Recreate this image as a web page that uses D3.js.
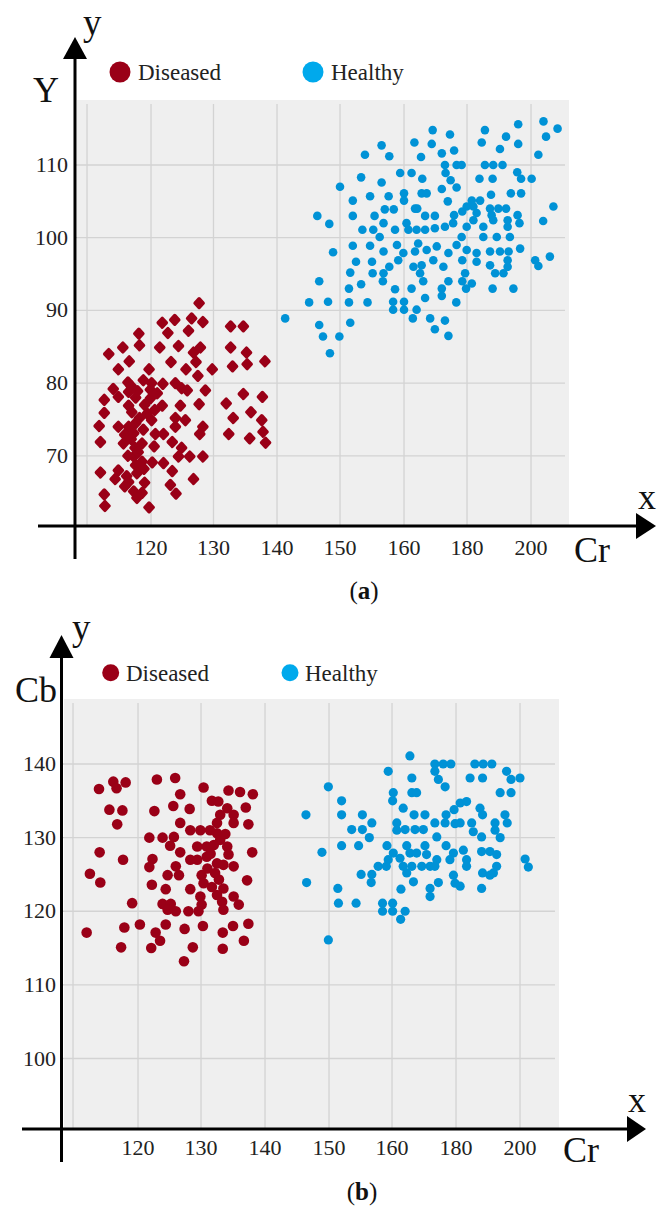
<!DOCTYPE html>
<html><head><meta charset="utf-8">
<script src="https://cdn.jsdelivr.net/npm/d3@7"></script>
<style>html,body{margin:0;padding:0;background:#fff;}svg{display:block;}</style>
</head><body><svg id="c" width="657" height="1207"></svg>
<script>
// ---- data ----
const crTicks = [110, 120, 130, 140, 150, 160, 180, 200];
const crTickLabels = ["", "120", "130", "140", "150", "160", "180", "200"];
const yTicksA = [70, 80, 90, 100, 110];
const cbTicksB = [100, 110, 120, 130, 140];
const seriesNames = ["Diseased", "Healthy"];

// (a) Cr vs Y
const diseasedA = [[127.7,91.0],[121.8,88.3],[123.8,88.7],[126.5,88.9],[128.3,88.4],[126.0,87.2],[122.7,86.9],[118.1,86.8],[118.2,85.2],[115.6,84.9],[113.4,84.0],[121.4,84.9],[124.4,85.1],[126.8,84.2],[127.9,84.9],[127.2,82.9],[123.2,82.9],[116.6,83.0],[114.9,81.9],[119.7,81.9],[125.6,81.9],[127.5,81.0],[129.8,81.9],[132.7,87.8],[134.7,87.8],[132.7,84.9],[135.2,84.2],[133.0,82.3],[135.3,82.6],[138.1,83.0],[134.7,78.5],[137.7,78.1],[132.0,77.2],[135.9,76.0],[133.1,75.2],[137.6,74.9],[132.4,73.0],[137.8,73.3],[135.7,72.4],[138.2,71.8],
[116.4,80.1],[120.1,80.0],[121.9,79.9],[123.9,80.0],[124.9,79.3],[114.1,79.2],[114.9,78.1],[116.5,78.8],[117.6,78.0],[119.9,79.1],[119.9,77.9],[112.7,77.7],[116.5,76.9],[121.8,76.9],[124.7,76.9],[112.7,75.9],[119.4,75.8],[120.1,74.9],[123.9,75.2],[125.5,74.9],[111.9,74.1],[114.9,74.0],[116.5,74.0],[117.6,74.5],[115.9,72.9],[117.3,73.1],[120.7,73.0],[122.0,73.0],[112.1,71.9],[115.7,71.7],[118.6,71.7],[120.5,71.3],[123.4,71.9],[124.9,71.1],[117.5,71.1],[117.3,69.9],[118.6,69.2],[120.2,69.1],[122.0,69.0],[124.4,69.9],[126.2,69.9],[117.6,68.7],[114.9,68.0],[112.1,67.7],[117.8,67.6],[123.4,67.9],[114.4,66.8],[116.5,66.4],[115.9,65.8],[117.3,65.1],[118.6,64.9],[123.1,66.0],[124.0,64.8],[112.7,64.7],[112.8,63.1],[119.7,62.9],[126.8,66.8],
[128.7,79.0],[127.7,77.1],[128.3,74.0],[127.8,73.0],[123.9,74.0],[128.3,69.9],[125.8,79.0],
[117.0,76.0],[118.2,75.2],[118.8,73.6],[116.9,72.3],[118.0,70.5],[116.4,70.0],[118.9,68.2],[116.2,67.2],[119.0,66.3],[117.8,64.2],[120.6,76.3],[119.0,77.0],[118.8,80.4],[121.0,78.6],[116.9,79.6],[117.9,78.9]];

const healthyA = [[203.9,116.0],[208.3,115.0],[196.0,115.6],[185.6,114.8],[169.1,114.8],
[174.6,114.2],[192.2,113.9],[204.7,113.9],[163.3,113.1],[168.8,112.9],[184.6,113.1],[196.0,112.9],[156.5,112.7],[190.3,112.2],[175.9,112.0],[172.0,111.6],[153.9,111.4],[157.7,111.2],[165.4,111.1],[202.3,111.4],
[173.0,110.0],[176.7,110.0],[178.3,110.0],[185.6,110.0],[188.2,110.0],[191.1,110.0],[173.2,108.9],[159.4,108.9],[162.4,108.9],[195.7,109.0],[196.9,108.1],[200.2,108.1],[153.3,108.3],[156.5,107.6],[165.8,108.1],[174.8,107.9],[183.9,108.1],[188.0,108.1],[150.0,107.0],[176.7,106.9],[172.0,106.7],
[152.0,105.1],[154.7,105.7],[157.6,105.7],[160.0,106.1],[160.0,105.1],[165.6,106.1],[167.2,106.1],[173.9,105.0],[187.5,105.9],[193.7,106.1],[196.9,106.1],[181.5,105.1],[184.1,105.1],[157.0,103.9],[158.4,103.9],[163.5,104.0],[164.2,104.0],[179.9,104.3],[182.0,104.3],[187.2,104.0],[189.8,104.0],[192.2,104.0],[207.0,104.3],[146.4,103.0],
[148.3,101.9],[152.0,103.0],[155.4,103.0],[156.8,102.0],[158.6,101.1],[160.8,102.0],[166.7,103.0],[169.8,103.0],[175.9,103.1],[178.5,103.6],[187.7,103.1],[188.2,102.4],[192.7,102.4],[192.7,101.5],[195.8,103.1],[196.4,102.0],[203.8,102.3],[153.5,101.1],[155.2,101.1],[156.2,100.1],[161.4,101.1],[164.0,101.1],[166.7,101.1],[169.8,101.3],[173.0,101.5],[175.6,102.0],[179.9,101.5],[182.0,102.4],[183.0,103.4],[178.3,100.1],[185.1,101.5],[185.1,100.1],[189.3,100.1],[193.4,100.1],
[148.9,98.0],[152.0,98.9],[154.7,98.9],[156.8,98.1],[158.9,99.0],[159.9,97.9],[163.5,98.1],[164.5,99.2],[167.2,98.3],[170.4,98.8],[174.1,97.9],[176.7,99.0],[179.9,98.3],[183.0,97.9],[187.2,98.1],[190.3,98.1],[193.0,98.1],[196.6,98.5],[201.3,96.9],[202.3,96.1],[205.9,97.4],[152.5,96.7],[155.0,96.7],[157.7,96.0],[159.1,96.9],[163.0,96.0],[165.6,96.2],[169.3,96.9],[172.5,96.0],[178.5,96.9],[183.0,96.7],[187.2,96.2],[192.7,96.9],[192.7,96.0],
[151.6,95.2],[155.1,95.1],[156.8,95.1],[156.7,94.0],[165.1,95.1],[166.1,94.0],[179.4,95.1],[178.5,94.0],[181.5,93.7],[188.8,95.1],[191.4,95.1],[146.7,94.0],[153.3,93.6],[151.4,93.0],[158.6,92.9],[162.4,93.0],[172.0,93.0],[172.0,92.0],[174.1,94.0],[179.7,93.0],[188.0,93.0],[194.5,93.0],
[145.1,91.1],[148.1,91.2],[151.4,91.1],[154.3,91.1],[158.3,91.2],[158.3,90.1],[160.0,91.2],[160.0,90.1],[164.0,90.1],[162.8,88.9],[166.7,91.7],[176.6,91.1],[168.3,88.9],[173.0,88.6],[169.8,87.4],[174.1,86.5],[141.3,88.9],[146.7,88.0],[151.6,88.3],[147.3,86.4],[149.9,86.4],[148.4,84.1]];

// (b) Cr vs Cb
const diseasedB = [[114.0,136.6],[116.2,137.6],[116.7,136.7],[118.1,137.5],[123.0,137.9],[125.9,138.1],[130.4,136.8],[126.7,135.9],[134.3,136.4],[136.1,136.2],[138.1,135.9],[131.7,135.0],[132.7,134.9],[125.6,134.3],[128.2,133.9],[122.6,133.6],[115.6,133.8],[117.6,133.7],[116.8,131.8],[134.1,134.0],[135.1,133.1],[137.0,134.1],[133.0,133.1],[132.5,132.0],[135.1,132.0],[137.4,131.8],[126.7,132.0],[128.3,131.0],[129.9,131.0],[131.4,131.0],[132.5,130.6],[133.0,129.7],[121.8,130.0],[123.9,130.0],[125.7,130.1],[125.1,128.9],[126.7,128.0],[129.4,128.8],[130.9,128.8],[134.1,128.8],[134.3,127.7],[138.0,128.0],[114.1,128.0],[117.7,127.0],[122.3,127.1],[121.8,126.0],[128.3,127.0],[129.4,127.0],[130.9,127.4],[132.5,126.5],[133.5,126.3],[135.1,126.1],[126.0,126.1],[126.5,124.9],[124.7,124.9],[112.6,125.1],[114.2,123.9],[130.1,124.9],[130.4,123.8],[132.2,125.2],[137.2,124.2],[122.2,123.6],[124.4,123.0],[128.3,123.0],[133.5,123.1],[129.9,122.0],[130.1,120.9],[132.5,122.2],[133.3,121.3],[133.5,120.2],[135.1,122.0],[135.9,120.9],[119.1,121.1],[123.9,121.0],[125.2,121.0],[126.0,120.0],[124.7,120.2],[128.0,120.0],[129.6,120.0],[112.1,117.1],[117.9,117.8],[120.3,118.2],[124.4,118.2],[127.4,117.6],[130.3,118.0],[135.0,118.0],[137.4,118.3],[122.8,117.1],[123.5,116.0],[122.1,115.0],[117.4,115.1],[133.4,117.1],[136.7,116.0],[128.7,115.1],[133.4,114.9],[127.3,113.2],
[132.0,129.0],[131.5,127.8],[133.8,130.5],[131.0,125.8],[132.8,124.3],[131.7,123.3]];

const healthyB = [[165.6,141.1],[173.4,140.0],[176.0,140.0],[178.4,140.0],[185.9,140.0],[188.5,140.0],[191.2,140.0],[159.4,139.0],[173.4,139.0],[174.5,137.9],[166.2,138.1],[176.6,136.9],[184.4,138.1],[188.3,138.1],[195.8,139.0],[197.2,137.9],[200.0,138.1],[149.9,136.9],[160.4,136.1],[160.2,135.0],[166.2,136.1],[167.7,136.1],[193.8,136.1],[197.2,136.1],[152.0,135.0],[146.4,133.1],[152.0,133.1],[155.3,133.1],[156.8,132.0],[163.5,134.0],[166.9,133.1],[170.3,133.1],[176.9,133.1],[179.4,133.8],[181.3,134.7],[183.3,134.9],[187.5,134.0],[188.3,133.1],[195.3,133.1],[196.0,132.0],[153.6,131.1],[155.3,131.1],[156.4,130.0],[161.5,132.0],[161.5,131.0],[164.1,131.1],[167.2,131.1],[169.8,131.1],[173.4,132.0],[174.0,130.1],[176.6,132.0],[179.7,131.9],[181.3,132.0],[184.9,132.0],[185.4,130.8],[188.0,130.1],[192.2,132.0],[192.2,131.0],[193.8,130.0],[148.9,128.0],[152.0,128.9],[154.7,128.9],[159.2,128.9],[160.4,127.9],[164.6,128.9],[165.6,127.9],[167.7,127.9],[170.3,128.9],[170.8,127.7],[171.9,126.1],[176.9,128.9],[179.2,127.9],[178.1,127.0],[182.3,128.3],[183.3,127.0],[183.3,126.1],[188.0,128.1],[190.6,128.1],[192.7,127.7],[192.7,126.1],[191.7,125.2],[201.6,127.1],[202.6,126.0],[162.5,127.2],[163.5,126.1],[166.2,126.1],[159.4,127.0],[159.1,126.1],[157.8,126.1],[169.3,126.1],[174.0,127.0],[173.4,126.1],[164.6,125.2],[166.7,124.0],[155.1,125.0],[156.8,125.0],[156.7,123.9],[179.2,124.9],[179.7,123.8],[181.3,123.4],[174.5,123.9],[171.9,123.1],[171.9,122.0],[188.3,125.2],[190.6,124.9],[188.0,123.1],[146.5,123.9],[151.4,123.1],[162.8,123.0],[151.5,121.1],[154.3,121.1],[158.5,121.1],[160.2,121.1],[158.5,120.0],[160.2,120.0],[164.1,120.0],[162.7,118.9],[149.9,116.1]];

// ---- drawing ----
const svg = d3.select("#c");
const FONT = "'Liberation Serif', 'DejaVu Serif', serif";
const RED = "#9a0017", BLUE = "#0092d6", LBLUE = "#00a9ec", GRID = "#d3d3d3", BG = "#efefef";

function panel(o) {
  const g = svg.append("g");
  const x = d3.scaleLinear().domain(crTicks).range(o.xRange);
  const y = d3.scaleLinear().domain(o.yDomain).range(o.yRange);
  g.append("rect").attr("x", o.bg[0]).attr("y", o.bg[1]).attr("width", o.bg[2]-o.bg[0]).attr("height", o.bg[3]-o.bg[1]).attr("fill", BG);
  g.selectAll(".vg").data(crTicks).join("line")
    .attr("x1", d => x(d)).attr("x2", d => x(d)).attr("y1", o.bg[1]+4).attr("y2", o.axisY)
    .attr("stroke", GRID).attr("stroke-width", 1.3);
  g.selectAll(".hg").data(o.yTicks).join("line")
    .attr("x1", o.axisX).attr("x2", o.bg[2]-4).attr("y1", d => y(d)).attr("y2", d => y(d))
    .attr("stroke", GRID).attr("stroke-width", 1.3);
  if (o.diamond) {
    g.selectAll(".d").data(o.diseased).join("path")
      .attr("d", "M0,-4.4L4.1,0L0,4.4L-4.1,0Z")
      .attr("transform", d => `translate(${x(d[0])},${y(d[1])})`)
      .attr("fill", RED).attr("stroke", RED).attr("stroke-width", 3.4).attr("stroke-linejoin", "round");
  } else {
    g.selectAll(".d").data(o.diseased).join("circle")
      .attr("cx", d => x(d[0])).attr("cy", d => y(d[1])).attr("r", o.rD).attr("fill", RED);
  }
  g.selectAll(".h").data(o.healthy).join("circle")
    .attr("cx", d => x(d[0])).attr("cy", d => y(d[1])).attr("r", o.rH).attr("fill", BLUE);
  // axes
  g.append("line").attr("x1", o.axisX).attr("x2", o.axisX).attr("y1", o.yArrowBase).attr("y2", o.yAxisEnd)
    .attr("stroke", "#000").attr("stroke-width", 3);
  g.append("path").attr("d", `M${o.axisX},${o.yArrowTip}L${o.axisX+12},${o.yArrowBase+1}L${o.axisX-12},${o.yArrowBase+1}Z`).attr("fill", "#000");
  g.append("line").attr("x1", o.xAxisStart).attr("x2", o.xArrowBase).attr("y1", o.axisY).attr("y2", o.axisY)
    .attr("stroke", "#000").attr("stroke-width", 3);
  g.append("path").attr("d", `M${o.xArrowTip},${o.axisY}L${o.xArrowBase-1},${o.axisY-13}L${o.xArrowBase-1},${o.axisY+13}Z`).attr("fill", "#000");
  // tick labels
  g.selectAll(".xt").data(crTicks).join("text")
    .attr("x", d => x(d)).attr("y", o.xLabelY).attr("text-anchor", "middle")
    .attr("font-family", FONT).attr("font-size", 22).attr("fill", "#222")
    .text((d, i) => crTickLabels[i]);
  g.selectAll(".yt").data(o.yTicks).join("text")
    .attr("x", o.yLabelX).attr("y", d => y(d) + 7).attr("text-anchor", "end")
    .attr("font-family", FONT).attr("font-size", 22).attr("fill", "#222")
    .text(d => d);
  const t = (txt, xx, yy, size, anchor) => g.append("text").attr("x", xx).attr("y", yy)
    .attr("font-family", FONT).attr("font-size", size).attr("fill", "#111")
    .attr("text-anchor", anchor || "start").text(txt);
  t("y", o.yLetter[0], o.yLetter[1], 37);
  t(o.yTitle, o.yTitlePos[0], o.yTitlePos[1], 36, "middle");
  t("x", o.xLetter[0], o.xLetter[1], 36);
  t("Cr", o.crPos[0], o.crPos[1], 36);
  const cap = g.append("text").attr("x", o.capPos[0]).attr("y", o.capPos[1]).attr("text-anchor", "middle")
    .attr("font-family", FONT).attr("font-size", 25).attr("fill", "#111");
  cap.append("tspan").text("(");
  cap.append("tspan").attr("font-weight", "bold").text(o.cap);
  cap.append("tspan").text(")");
  o.legend.forEach((L, i) => {
    g.append("circle").attr("cx", L[0]).attr("cy", o.legendY).attr("r", o.legendR).attr("fill", i === 0 ? RED : LBLUE);
    g.append("text").attr("x", L[1]).attr("y", o.legendY + 8).attr("font-family", FONT).attr("font-size", 23)
      .attr("fill", "#222").text(seriesNames[i]);
  });
}

panel({
  xRange: [87, 151, 213.5, 277, 340, 404, 467, 531],
  yDomain: [70, 110], yRange: [455.8, 165],
  yTicks: yTicksA,
  bg: [77, 100, 569, 526],
  axisX: 75, axisY: 526,
  yArrowTip: 37, yArrowBase: 58, yAxisEnd: 559,
  xAxisStart: 38, xArrowBase: 637, xArrowTip: 656,
  xLabelY: 555, yLabelX: 68,
  yLetter: [83, 35], yTitle: "Y", yTitlePos: [46, 102],
  xLetter: [638, 509], crPos: [574, 562],
  capPos: [364, 599], cap: "a",
  legend: [[120, 138], [313, 331]], legendY: 72, legendR: 10.5,
  diseased: diseasedA, healthy: healthyA, diamond: true, rD: 5.3, rH: 4.3
});

panel({
  xRange: [73, 138, 201, 265, 329, 392, 456, 520],
  yDomain: [100, 140], yRange: [1058.5, 764],
  yTicks: cbTicksB,
  bg: [64, 699, 559, 1129],
  axisX: 61.5, axisY: 1129,
  yArrowTip: 635, yArrowBase: 657, yAxisEnd: 1162,
  xAxisStart: 22, xArrowBase: 628, xArrowTip: 646,
  xLabelY: 1155, yLabelX: 56,
  yLetter: [72, 640], yTitle: "Cb", yTitlePos: [36, 702],
  xLetter: [628, 1112], crPos: [563, 1162],
  capPos: [362, 1200], cap: "b",
  legend: [[110.7, 126], [290, 305]], legendY: 672.7, legendR: 8.5,
  diseased: diseasedB, healthy: healthyB, diamond: false, rD: 5.3, rH: 4.6
});
</script></body></html>
